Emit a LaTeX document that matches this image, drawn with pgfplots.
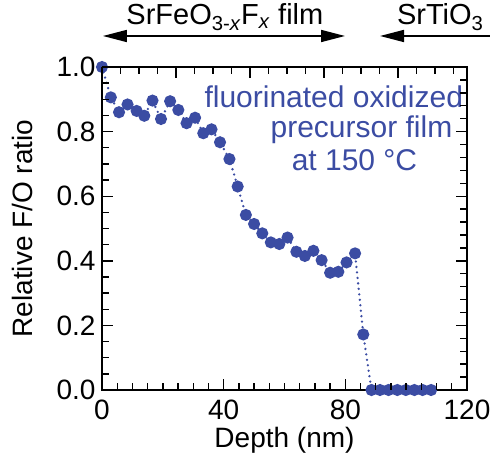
\documentclass[border=0pt]{standalone}
\usepackage{pgfplots}
\pgfplotsset{compat=1.18}
\usepackage{fontspec}
\setmainfont{Liberation Sans}
\usetikzlibrary{arrows.meta}
\definecolor{fblue}{RGB}{59,76,163}
\newcommand\fs[1]{\fontsize{#1}{#1}\selectfont}

\begin{document}
\begin{tikzpicture}
\useasboundingbox (-102pt,-71pt) rectangle (392pt,390pt);
\begin{axis}[name=main,at={(0,0)},anchor=south west,width=365pt,height=323pt,scale only axis,
 xmin=0,xmax=120,ymin=0,ymax=1,
 xtick={0,40,80,120},
 ytick={0,0.2,0.4,0.6,0.8,1.0},
 major tick length=0pt,
 axis line style={line width=1.6pt},
 yticklabel style={xshift=-3pt,/pgf/number format/fixed,/pgf/number format/fixed zerofill,/pgf/number format/precision=1},
 /pgf/number format/assume math mode=true,
 tick label style={font=\fs{28}},
 xticklabel style={yshift=-6pt},
 label style={font=\fs{28}},
 xlabel={Depth (nm)},ylabel={Relative F/O ratio},
 xlabel style={at={(rel axis cs:0.5,0)},yshift=-50pt,anchor=center},
 ylabel style={at={(rel axis cs:-0.219,0.5)},anchor=center},
 clip=false]
\addplot[fblue,line width=2.6pt,dash pattern=on 0pt off 5.5pt,line cap=round,
 mark=*,mark size=4.7pt,mark options={solid,draw=none,fill=fblue}]
 coordinates {
 (0,1.0) (2.9,0.906) (5.6,0.860) (8.4,0.884) (11.4,0.864) (13.9,0.849)
 (16.6,0.896) (19.4,0.839) (22.4,0.894) (25.1,0.867) (27.8,0.826) (30.6,0.843)
 (33.3,0.795) (36.0,0.807) (38.8,0.767) (41.9,0.715) (44.6,0.630) (47.3,0.542)
 (50.0,0.514) (52.7,0.485) (55.5,0.457) (58.3,0.452) (61.0,0.472) (63.9,0.428)
 (66.7,0.415) (69.5,0.431) (72.2,0.402) (75.0,0.363) (77.7,0.366) (80.4,0.395)
 (83.2,0.423) (85.9,0.172) (88.6,0) (91.4,0) (94.2,0) (97.1,0) (99.9,0)
 (102.7,0) (105.4,0) (108.2,0)};
\node[fblue,font=\fs{30}] at (axis cs:76.2,0.907) {fluorinated oxidized};
\node[fblue,font=\fs{30}] at (axis cs:85.3,0.805) {precursor film};
\node[fblue,font=\fs{30}] at (axis cs:83.0,0.712) {at 150 °C};
\draw[line width=1.6pt,{Triangle[length=24pt,width=12pt]}-{Triangle[length=24pt,width=12pt]}]
 (axis cs:0.3,1.096) -- (axis cs:79.9,1.096);
\draw[line width=1.6pt,-{Triangle[length=24pt,width=12pt]}]
 (axis cs:127.5,1.096) -- (axis cs:91.4,1.096);
\node[font=\fs{29}] at (axis cs:40.4,1.155) {SrFeO\textsubscript{3-\textit{x}}F\textsubscript{\textit{x}} film};
\node[font=\fs{29}] at (axis cs:111.2,1.155) {SrTiO\textsubscript{3}};
\end{axis}
% tick marks on the axis frame (0,0)-(365pt,323pt)
\foreach \i in {0,...,24}{
 \pgfmathsetmacro\L{ifthenelse(mod(\i,8)==0,11,7)}
 \fill[black] ({\i*15.2083pt-0.7pt},0) rectangle ({\i*15.2083pt+0.7pt},{\L*1pt});}
\foreach \j in {0,...,20}{
 \pgfmathsetmacro\L{ifthenelse(mod(\j,4)==0,11,7)}
 \fill[black] (0,{\j*16.15pt-0.7pt}) rectangle ({\L*1pt},{\j*16.15pt+0.7pt});}
\foreach \k in {0,...,19}{
 \pgfmathsetmacro\L{ifthenelse(mod(\k,4)==0,11,7)}
 \fill[black] ({\k*18.49pt-0.7pt},323pt) rectangle ({\k*18.49pt+0.7pt},{323pt-\L*1pt});}
\foreach \m in {0,...,25}{
 \pgfmathsetmacro\L{ifthenelse(mod(\m,5)==0,11,7)}
 \fill[black] (365pt,{\m*12.92pt-0.7pt}) rectangle ({365pt-\L*1pt},{\m*12.92pt+0.7pt});}
\end{tikzpicture}
\end{document}
